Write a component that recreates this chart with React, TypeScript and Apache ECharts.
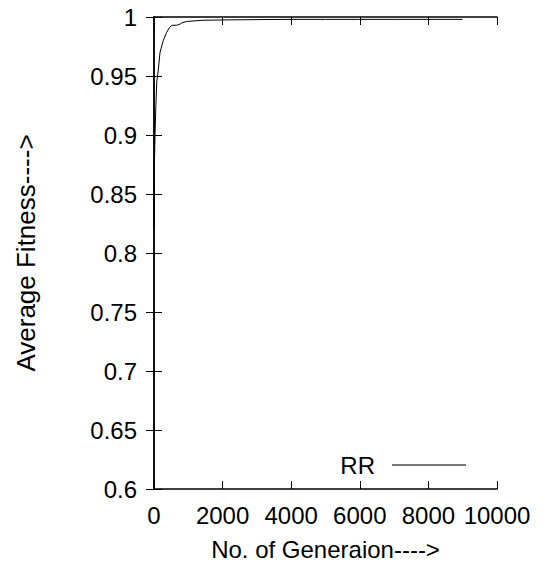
import React, { useEffect, useRef } from "react";
import * as echarts from "echarts";

const generations = [0, 5, 12, 30, 55, 80, 125, 175, 270, 370, 450, 520, 660, 760, 810, 950, 1400, 2000, 3000, 4000, 5000, 6000, 7000, 8000, 9000];
const fitness = [0.82, 0.86, 0.875, 0.9, 0.925, 0.945, 0.955, 0.97, 0.98, 0.987, 0.991, 0.993, 0.993, 0.994, 0.995, 0.9962, 0.9972, 0.9975, 0.9978, 0.998, 0.998, 0.998, 0.998, 0.998, 0.998];
const seriesName = "RR";
const xTitle = "No. of Generaion---->";
const yTitle = "Average Fitness---->";

export default function App() {
  const ref = useRef<HTMLDivElement>(null);
  useEffect(() => {
    if (!ref.current) return;
    const chart = echarts.init(ref.current, undefined, { renderer: "svg" });
    const font = "Liberation Sans, Arial, sans-serif";
    const fs = 24;
    const axisLine = { show: true, lineStyle: { color: "#000", width: 1.5 } };
    const tick = { show: true, inside: true, length: 8, lineStyle: { color: "#000", width: 1 } };
    chart.setOption({
      animation: false,
      backgroundColor: "#fff",
      grid: { left: 154, top: 17, width: 343, height: 472, containLabel: false },
      legend: {
        data: [seriesName],
        right: 80,
        top: 448,
        align: "right",
        itemWidth: 74,
        itemHeight: 2,
        icon: "rect",
        textStyle: { fontFamily: font, fontSize: fs, color: "#000", padding: [0, 12, 0, 0] },
        itemStyle: { color: "#777" },
      },
      xAxis: [
        {
          type: "value",
          min: 0,
          max: 10000,
          interval: 2000,
          position: "bottom",
          axisLine,
          axisTick: tick,
          splitLine: { show: false },
          axisLabel: {
            fontFamily: font,
            fontSize: fs,
            color: "#000",
            margin: 14,
            showMaxLabel: true,
            showMinLabel: true,
            formatter: (v: number) => String(v),
          },
          name: xTitle,
          nameLocation: "middle",
          nameGap: 48,
          nameTextStyle: { fontFamily: font, fontSize: fs, color: "#000" },
        },
        {
          type: "value",
          min: 0,
          max: 10000,
          interval: 2000,
          position: "top",
          axisLine,
          axisTick: tick,
          splitLine: { show: false },
          axisLabel: { show: false },
        },
      ],
      yAxis: [
        {
          type: "value",
          min: 0.6,
          max: 1,
          interval: 0.05,
          position: "left",
          axisLine,
          axisTick: tick,
          splitLine: { show: false },
          axisLabel: {
            fontFamily: font,
            fontSize: fs,
            color: "#000",
            margin: 17,
            showMaxLabel: true,
            showMinLabel: true,
            formatter: (v: number) => String(Math.round(v * 100) / 100),
          },
          name: yTitle,
          nameLocation: "middle",
          nameGap: 115,
          nameTextStyle: { fontFamily: font, fontSize: 26, color: "#000" },
        },
        {
          type: "value",
          min: 0.6,
          max: 1,
          interval: 0.05,
          position: "right",
          axisLine,
          axisTick: tick,
          splitLine: { show: false },
          axisLabel: { show: false },
        },
      ],
      series: [
        {
          name: seriesName,
          type: "line",
          showSymbol: false,
          data: generations.map((g, i) => [g, fitness[i]]),
          lineStyle: { color: "#000", width: 1 },
          itemStyle: { color: "#777" },
        },
      ],
    });
    return () => chart.dispose();
  }, []);
  return <div ref={ref} style={{ width: 551, height: 571, margin: -8 }} />;
}
